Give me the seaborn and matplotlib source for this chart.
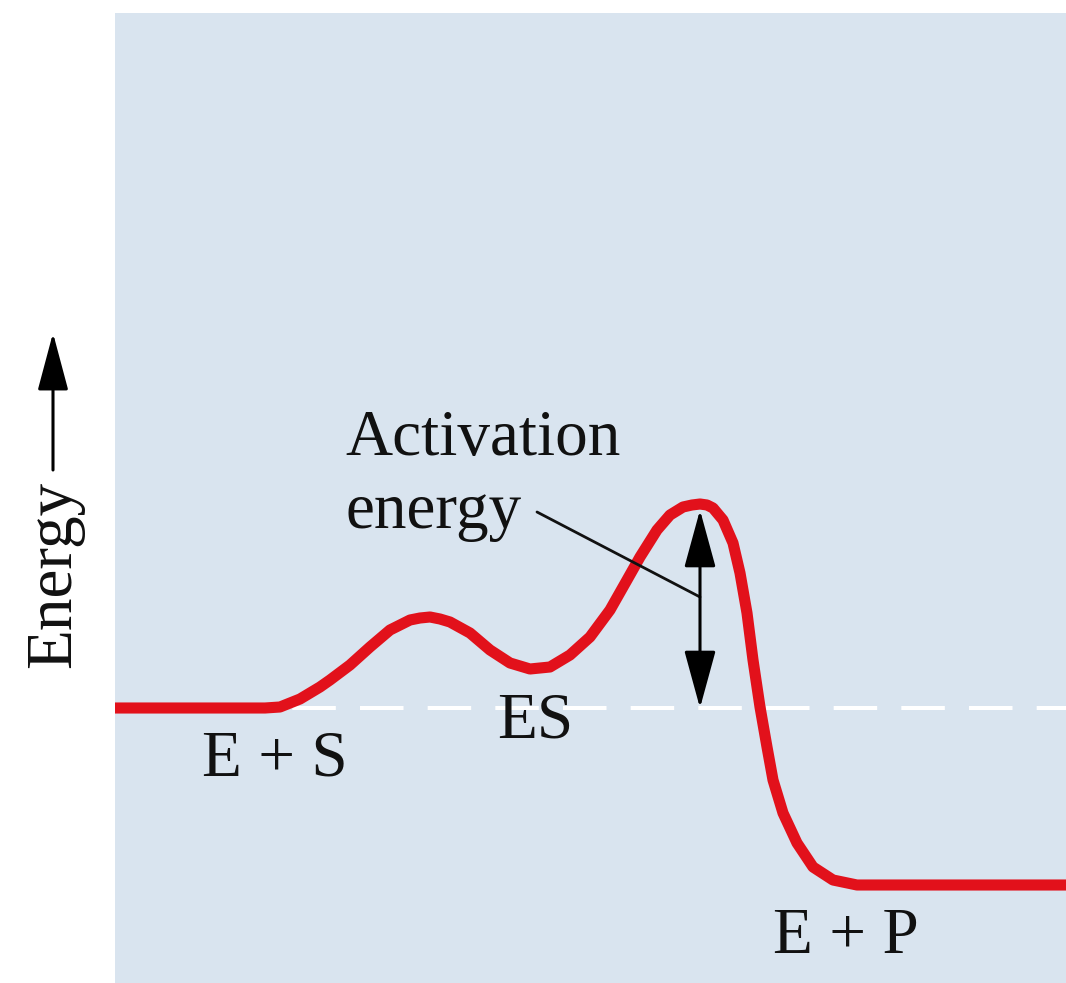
import matplotlib
matplotlib.use("Agg")
import matplotlib.pyplot as plt
import seaborn as sns
import pandas as pd

# Reaction coordinate (progress) and energy values
progress = [115, 200, 265, 280, 290, 300, 310, 320, 330, 350, 370, 390, 410, 420,
            430, 440, 450, 470, 490, 510, 530, 550, 570, 590, 610, 627, 640, 657,
            670, 683, 692, 700, 707, 713, 723, 733, 740, 747, 753, 760, 767, 773,
            783, 797, 813, 833, 857, 880, 1066]
energy = [275, 275, 275, 276, 280, 284, 290, 296, 303, 318, 336, 353, 363, 365,
          366, 364, 361, 350, 333, 320, 314, 316, 328, 346, 373, 403, 426, 453,
          468, 476, 478, 479, 478, 475, 463, 440, 410, 370, 323, 276, 236, 203,
          170, 140, 116, 103, 98, 98, 98]

labels = ["E + S", "ES", "E + P"]
label_x = [202, 497, 773]
label_y = [208, 245, 30]

substrate_level = 275
peak_energy = 473

sns.set_theme(style="white")
plt.rcParams["font.family"] = ["Liberation Serif", "DejaVu Serif"]

fig = plt.figure(figsize=(10.66, 9.83), dpi=100)
fig.patch.set_facecolor("white")
ax = fig.add_axes([115 / 1066, 0, 951 / 1066, 970 / 983])
ax.set_facecolor("#d9e4ef")
ax.set_xlim(115, 1066)
ax.set_ylim(0, 970)
for s in ax.spines.values():
    s.set_visible(False)

# dashed reference line at substrate level
ax.plot([156.6, 1066], [substrate_level, substrate_level], color="white",
        lw=2.9, dashes=(10.8, 6.0), zorder=1, solid_capstyle="butt")

df = pd.DataFrame({"progress": progress, "energy": energy})
sns.lineplot(data=df, x="progress", y="energy", ax=ax, color="#e2111b",
             lw=8, sort=False, estimator=None, zorder=3)
ax.lines[-1].set_solid_joinstyle("round")
ax.lines[-1].set_solid_capstyle("butt")
ax.set_xlabel("")
ax.set_ylabel("")
ax.set_xticks([])
ax.set_yticks([])

fs = 47
for t, x, y in zip(labels, label_x, label_y):
    ax.text(x, y, t, fontsize=fs, ha="left", va="baseline", color="#111111", zorder=5)

ax.text(345, 528, "Activation", fontsize=fs, ha="left", va="baseline", color="#111111")
ax.text(345, 455, "energy", fontsize=fs, ha="left", va="baseline", color="#111111")

# leader line
ax.plot([537, 700], [471, 386], color="#111111", lw=2.0, zorder=4)

# double headed activation energy arrow
ax.annotate("", xy=(700, peak_energy), xytext=(700, substrate_level),
            arrowprops=dict(arrowstyle="<|-|>,head_length=3.0,head_width=0.82",
                            lw=2.2, color="black", shrinkA=0, shrinkB=0),
            zorder=4)

# Energy axis label and arrow (outside the panel)
fig.text(70 / 1066, (983 - 668) / 983, "Energy", fontsize=fs, rotation=90,
         rotation_mode="anchor", ha="left", va="baseline", color="#111111")
ax.annotate("", xy=(53, 983 - 333), xytext=(53, 983 - 470),
            xycoords="figure pixels", textcoords="figure pixels",
            arrowprops=dict(arrowstyle="-|>,head_length=3.0,head_width=0.8",
                            lw=2.2, color="black", shrinkA=0, shrinkB=0),
            annotation_clip=False)

fig.savefig("out.png", dpi=100)
